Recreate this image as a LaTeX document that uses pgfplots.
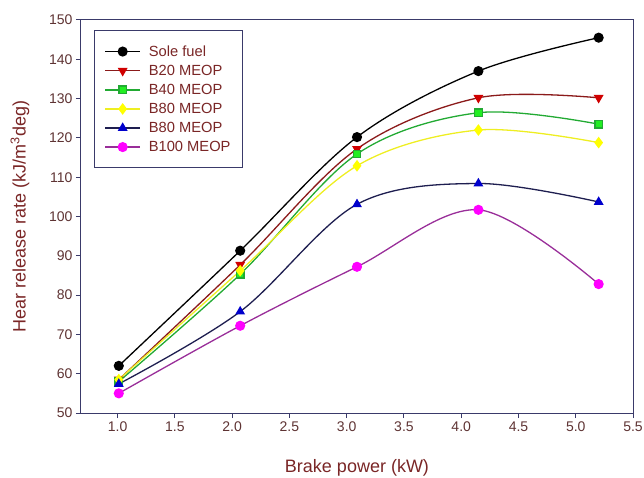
\documentclass[border=0pt]{standalone}
\usepackage{fontspec}
\setmainfont{Liberation Sans}
\usepackage{pgfplots}
\pgfplotsset{compat=1.18}
\definecolor{tickc}{HTML}{5E3333}
\definecolor{labc}{HTML}{7A2626}
\definecolor{framec}{HTML}{3A3A6A}
\definecolor{bred}{HTML}{8B1A1A}
\definecolor{mred}{HTML}{D00000}
\definecolor{lgreen}{HTML}{22AA33}
\definecolor{mgreen}{HTML}{22EE22}
\definecolor{lyel}{HTML}{EEEE22}
\definecolor{myel}{HTML}{FFFF00}
\definecolor{lnavy}{HTML}{1E1E50}
\definecolor{mblue}{HTML}{0000CC}
\definecolor{lpurp}{HTML}{992E99}
\definecolor{mmag}{HTML}{FF00FF}
\begin{document}
\begin{tikzpicture}
\begin{axis}[
  scale only axis, width=552pt, height=393pt,
  xmin=0.68, xmax=5.5, ymin=50, ymax=150,
  xtick={1.0,1.5,...,5.5}, ytick={50,60,...,150},
  xticklabel style={/pgf/number format/.cd,fixed,fixed zerofill,precision=1},
  /pgf/number format/assume math mode=true,
  tick label style={font=\fontsize{14}{16}\selectfont, text=tickc},
  axis line style={framec, line width=1pt},
  tick style={framec, line width=1pt},
  tick align=outside, xtick pos=bottom, ytick pos=left,
  major tick length=5pt,
  xlabel={Brake power (kW)}, ylabel={Hear release rate (kJ/m\textsuperscript{3}deg)},
  label style={font=\fontsize{18}{20}\selectfont, text=labc},
  xlabel style={at={(axis description cs:0.5,-0.1399)}, anchor=center},
  ylabel style={at={(axis description cs:-0.1105,0.5)}, anchor=center},
  legend style={at={(rel axis cs:0.0236,0.9746)}, anchor=north west,
    draw=framec, line width=1pt, font=\fontsize{14.7}{17}\selectfont, text=labc,
    row sep=3.3pt, inner xsep=10pt, inner ysep=13pt},
  legend cell align=left,
  legend image code/.code={%
    \draw[mark repeat=2,mark phase=2] plot coordinates {(0pt,0pt) (17.5pt,0pt) (35pt,0pt)};
    \path (41pt,0pt);},
  every axis plot/.append style={line width=1.3pt, smooth, tension=0.55},
  mark size=4.4pt,
]
\addplot[black, mark=*, mark options={fill=black}] coordinates {(1.01,62.0) (2.07,91.3) (3.09,120.2) (4.15,137.0) (5.2,145.5)};
\addlegendentry{Sole fuel}
\addplot[bred, mark=triangle*, mark options={rotate=180, fill=mred, draw=mred, solid}] coordinates {(1.01,58.5) (2.07,87.7) (3.09,117.2) (4.15,130.2) (5.2,130.2)};
\addlegendentry{B20 MEOP}
\addplot[lgreen, mark=square*, mark size=3.8pt, mark options={fill=mgreen, draw=lgreen}] coordinates {(1.01,58.0) (2.07,85.3) (3.09,115.9) (4.15,126.4) (5.2,123.5)};
\addlegendentry{B40 MEOP}
\addplot[lyel, mark=diamond*, mark size=4.8pt, mark options={fill=myel, draw=myel}] coordinates {(1.01,58.5) (2.07,86.2) (3.09,112.9) (4.15,122.0) (5.2,118.8)};
\addlegendentry{B80 MEOP}
\addplot[lnavy, mark=triangle*, mark options={fill=mblue, draw=mblue}] coordinates {(1.01,57.4) (2.07,75.8) (3.09,103.1) (4.15,108.4) (5.2,103.7)};
\addlegendentry{B80 MEOP}
\addplot[lpurp, mark=*, mark options={fill=mmag, draw=mmag}] coordinates {(1.01,55.0) (2.07,72.2) (3.09,87.2) (4.15,101.7) (5.2,82.8)};
\addlegendentry{B100 MEOP}
\end{axis}
\pgfresetboundingbox
\path (-81pt,-64pt) rectangle (563pt,413pt);
\end{tikzpicture}
\end{document}
